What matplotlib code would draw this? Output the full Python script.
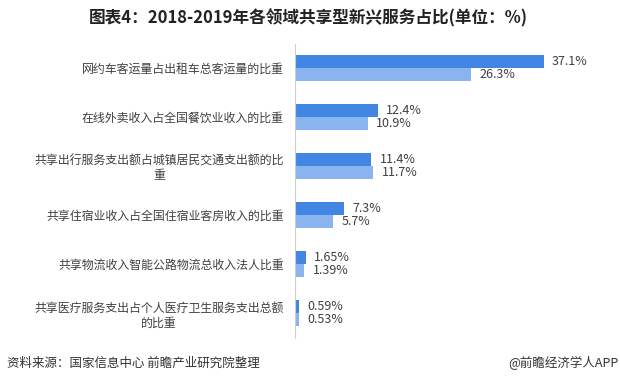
import matplotlib
matplotlib.use("Agg")
import matplotlib.pyplot as plt
import numpy as np

plt.rcParams['font.family'] = ['Noto Sans CJK SC', 'DejaVu Sans']

# 数据
categories = [
    "网约车客运量占出租车总客运量的比重",
    "在线外卖收入占全国餐饮业收入的比重",
    "共享出行服务支出额占城镇居民交通支出额的比\n重",
    "共享住宿业收入占全国住宿业客房收入的比重",
    "共享物流收入智能公路物流总收入法人比重",
    "共享医疗服务支出占个人医疗卫生服务支出总额\n的比重",
]
values_2019 = [37.1, 12.4, 11.4, 7.3, 1.65, 0.59]
values_2018 = [26.3, 10.9, 11.7, 5.7, 1.39, 0.53]
labels_2019 = ["37.1%", "12.4%", "11.4%", "7.3%", "1.65%", "0.59%"]
labels_2018 = ["26.3%", "10.9%", "11.7%", "5.7%", "1.39%", "0.53%"]

dark = '#4186e2'
light = '#89b4ef'
text_color = '#404040'

fig = plt.figure(figsize=(6.2, 3.85), dpi=100)
ax = fig.add_axes([0.4758, 0.123, 0.51, 0.764])

y = np.arange(len(categories))
h = 0.265
ax.barh(y - h / 2, values_2019, height=h, color=dark)
ax.barh(y + h / 2, values_2018, height=h, color=light)

for i in range(len(categories)):
    ax.annotate(labels_2019[i], (values_2019[i], y[i] - h / 2), xytext=(6, 0),
                textcoords='offset points', va='center', ha='left',
                fontsize=9, color=text_color)
    ax.annotate(labels_2018[i], (values_2018[i], y[i] + h / 2), xytext=(6, 0),
                textcoords='offset points', va='center', ha='left',
                fontsize=9, color=text_color)

ax.set_ylim(len(categories) - 0.5, -0.5)
ax.set_xlim(0, 47.2)
ax.set_yticks(y)
ax.set_yticklabels(categories, fontsize=8.6, color=text_color, multialignment='center')
ax.tick_params(axis='y', length=0, pad=8)
ax.set_xticks([])
for s in ['top', 'right', 'bottom']:
    ax.spines[s].set_visible(False)
ax.spines['left'].set_color('#d0d0d0')

fig.text(0.497, 0.953, "图表4：2018-2019年各领域共享型新兴服务占比(单位：%)",
         ha='center', va='center', fontsize=12, fontweight='bold', color='#222222')
fig.text(0.011, 0.057, "资料来源：国家信息中心 前瞻产业研究院整理",
         ha='left', va='center', fontsize=9, color='#333333')
fig.text(0.998, 0.057, "@前瞻经济学人APP",
         ha='right', va='center', fontsize=9, color='#333333')

plt.savefig("out.png", dpi=100)
